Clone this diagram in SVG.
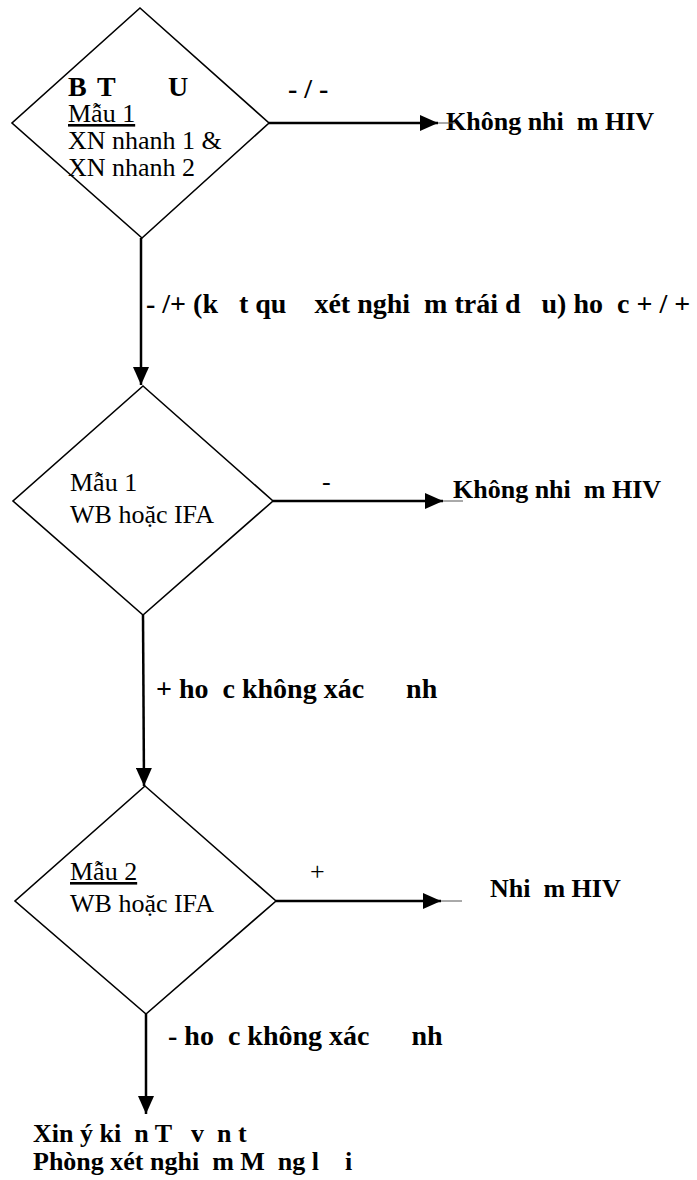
<svg xmlns="http://www.w3.org/2000/svg" width="697" height="1180" viewBox="0 0 697 1180">
  <style>
    text { font-family: "Liberation Serif", "Times New Roman", serif; fill: #000; white-space: pre; }
    .reg { font-size: 26px; }
    .bold { font-size: 28px; font-weight: bold; }
    .out { font-size: 26px; font-weight: bold; }
    .u { text-decoration: underline; }
    .shape { fill: #fff; stroke: #000; stroke-width: 1.6; }
    .conn { stroke: #000; stroke-width: 2.5; fill: none; }
    .tail { stroke: #555; stroke-width: 1; fill: none; }
  </style>
  <defs>
    <marker id="arrow" markerUnits="userSpaceOnUse" markerWidth="18" markerHeight="16" refX="18" refY="8" orient="auto">
      <path d="M0,0 L18,8 L0,16 Z" fill="#000"/>
    </marker>
  </defs>

  <rect width="697" height="1180" fill="#fff"/>

  <!-- decision 1: rapid tests on sample 1 -->
  <g id="node-rapid">
    <polygon class="shape" points="140,8 269,123 142,238 12,123"/>
    <text class="bold" y="96"><tspan x="68">B</tspan><tspan x="97">T</tspan><tspan x="168">U</tspan></text>
    <text class="reg u" x="68" y="122">Mẫu 1</text>
    <text class="reg" x="68" y="149">XN nhanh 1 &amp;</text>
    <text class="reg" x="68" y="176">XN nhanh 2</text>
  </g>

  <!-- decision 2: WB / IFA on sample 1 -->
  <g id="node-confirm1">
    <polygon class="shape" points="143,386 273,501 143,615 13,501"/>
    <text class="reg" x="70" y="491">Mẫu 1</text>
    <text class="reg" x="70" y="523">WB hoặc IFA</text>
  </g>

  <!-- decision 3: WB / IFA on sample 2 -->
  <g id="node-confirm2">
    <polygon class="shape" points="145,786 276,901 146,1014 15,901"/>
    <text class="reg u" x="70" y="880">Mẫu 2</text>
    <text class="reg" x="70" y="912">WB hoặc IFA</text>
  </g>

  <!-- outcomes -->
  <g id="out-negative1">
    <text class="out" x="446" y="130">Không nhi  m HIV</text>
  </g>
  <g id="out-negative2">
    <text class="out" x="453" y="498">Không nhi  m HIV</text>
  </g>
  <g id="out-positive">
    <text class="out" x="490" y="897">Nhi  m HIV</text>
  </g>
  <g id="out-referral">
    <text class="out" x="33" y="1142">Xin ý ki  n T   v  n t</text>
    <text class="out" x="33" y="1170">Phòng xét nghi  m M  ng l    i</text>
  </g>

  <!-- connectors -->
  <g id="connectors">
    <line class="conn" x1="269" y1="123" x2="438" y2="123" marker-end="url(#arrow)"/>
    <line class="tail" x1="438" y1="123" x2="455" y2="123"/>
    <line class="conn" x1="141" y1="238" x2="141" y2="385" marker-end="url(#arrow)"/>
    <line class="conn" x1="273" y1="501" x2="443" y2="501" marker-end="url(#arrow)"/>
    <line class="tail" x1="443" y1="501" x2="463" y2="501"/>
    <line class="conn" x1="143" y1="615" x2="144" y2="786" marker-end="url(#arrow)"/>
    <line class="conn" x1="276" y1="901" x2="441" y2="901" marker-end="url(#arrow)"/>
    <line class="tail" x1="441" y1="901" x2="462" y2="901"/>
    <line class="conn" x1="146" y1="1014" x2="146" y2="1114" marker-end="url(#arrow)"/>

    <text class="bold" x="288" y="98">- / -</text>
    <text class="bold" x="146" y="313">- /+ (k   t qu    xét nghi  m trái d   u) ho  c + / +</text>
    <text class="reg" x="322" y="490">-</text>
    <text class="bold" x="156" y="698">+ ho  c không xác      nh</text>
    <text class="reg" x="310" y="880">+</text>
    <text class="bold" x="168" y="1045">- ho  c không xác      nh</text>
  </g>
</svg>
